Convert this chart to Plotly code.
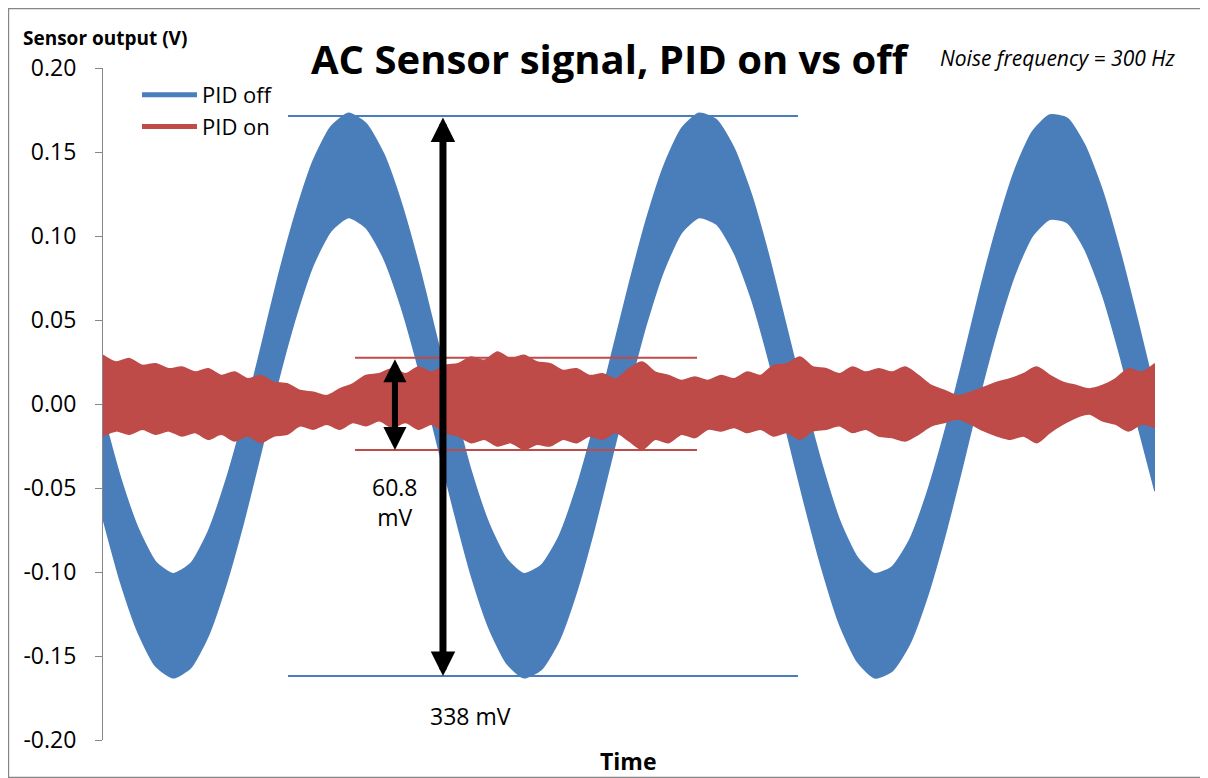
import plotly.graph_objects as go

# ---------------- data ----------------
# Time axis has no tick labels in the original; arbitrary sample units.
pid_off_time = list(range(61))
pid_off_upper = [
    -0.006, -0.044, -0.074, -0.094, -0.101, -0.095, -0.076, -0.046, -0.009, 0.033,
    0.076, 0.114, 0.145, 0.165, 0.173, 0.167, 0.149, 0.120, 0.083, 0.041,
    -0.001, -0.040, -0.071, -0.092, -0.101, -0.096, -0.079, -0.050, -0.013, 0.029,
    0.071, 0.110, 0.142, 0.164, 0.173, 0.169, 0.152, 0.124, 0.087, 0.045,
    0.003, -0.036, -0.069, -0.091, -0.101, -0.097, -0.081, -0.053, -0.017, 0.024,
    0.067, 0.106, 0.139, 0.162, 0.172, 0.170, 0.154, 0.127, 0.091, 0.050,
    0.007,
]
pid_off_lower = [
    -0.068, -0.106, -0.136, -0.156, -0.163, -0.157, -0.138, -0.108, -0.071, -0.029,
    0.014, 0.052, 0.083, 0.103, 0.111, 0.105, 0.087, 0.058, 0.021, -0.021,
    -0.063, -0.102, -0.133, -0.154, -0.163, -0.158, -0.141, -0.112, -0.075, -0.033,
    0.009, 0.048, 0.080, 0.102, 0.111, 0.107, 0.090, 0.062, 0.025, -0.017,
    -0.059, -0.098, -0.131, -0.153, -0.163, -0.159, -0.143, -0.115, -0.079, -0.038,
    0.005, 0.044, 0.077, 0.100, 0.110, 0.108, 0.092, 0.065, 0.029, -0.012,
    -0.052,
]

pid_on_time = [i * 0.75 for i in range(81)]
pid_on_upper = [
    0.029, 0.025, 0.027, 0.023, 0.024, 0.021, 0.022, 0.019, 0.021, 0.017,
    0.019, 0.015, 0.017, 0.013, 0.012, 0.008, 0.007, 0.005, 0.009, 0.012,
    0.017, 0.018, 0.021, 0.018, 0.022, 0.019, 0.023, 0.024, 0.028, 0.026,
    0.031, 0.027, 0.029, 0.025, 0.024, 0.020, 0.021, 0.017, 0.018, 0.015,
    0.021, 0.025, 0.019, 0.017, 0.014, 0.016, 0.014, 0.017, 0.015, 0.019,
    0.017, 0.023, 0.024, 0.028, 0.022, 0.021, 0.018, 0.022, 0.019, 0.021,
    0.019, 0.022, 0.017, 0.011, 0.008, 0.005, 0.007, 0.010, 0.013, 0.015,
    0.018, 0.022, 0.017, 0.013, 0.011, 0.009, 0.011, 0.015, 0.021, 0.019,
    0.024,
]
pid_on_lower = [
    -0.019, -0.016, -0.018, -0.015, -0.018, -0.016, -0.019, -0.017, -0.021, -0.018,
    -0.022, -0.019, -0.023, -0.019, -0.018, -0.013, -0.015, -0.012, -0.015, -0.011,
    -0.013, -0.010, -0.014, -0.011, -0.015, -0.012, -0.017, -0.019, -0.023, -0.021,
    -0.025, -0.023, -0.027, -0.024, -0.025, -0.021, -0.023, -0.019, -0.021, -0.017,
    -0.022, -0.027, -0.021, -0.023, -0.018, -0.020, -0.015, -0.016, -0.014, -0.017,
    -0.015, -0.019, -0.017, -0.021, -0.016, -0.015, -0.013, -0.017, -0.015, -0.019,
    -0.020, -0.022, -0.018, -0.013, -0.011, -0.009, -0.012, -0.016, -0.019, -0.021,
    -0.019, -0.023, -0.017, -0.012, -0.008, -0.006, -0.010, -0.012, -0.016, -0.012,
    -0.014,
]

y_tick_vals = [-0.20, -0.15, -0.10, -0.05, 0.00, 0.05, 0.10, 0.15, 0.20]
y_tick_text = ["-0.20", "-0.15", "-0.10", "-0.05", "0.00", "0.05", "0.10", "0.15", "0.20"]

off_max, off_min = 0.1714, -0.1619
on_max, on_min = 0.0276, -0.0274
off_line_t = (10.55, 39.64)
on_line_t = (14.37, 33.88)
off_arrow_t = 19.39
on_arrow_t = 16.65
off_label = "338 mV"
on_label = "60.8<br>mV"

BLUE = "#4a7ebb"
RED = "#be4b48"
FONT = "Open Sans"

# ---------------- figure ----------------
# the page body has an 8px margin, so the figure starts at page (8, 8)
OFF = 8
W, H = 1200, 770
ML, MR, MT, MB = 95, 53, 60, 38
PW, PH = W - ML - MR, H - MT - MB


def X(px):  # page pixel -> paper x
    return (px - OFF - ML) / PW


def Y(py):  # page pixel -> paper y
    return (H - MB - (py - OFF)) / PH


fig = go.Figure()

# PID off band
fig.add_trace(go.Scatter(x=pid_off_time, y=pid_off_upper, mode="lines",
                         line=dict(color=BLUE, width=1.5, shape="spline", smoothing=0.6),
                         showlegend=False, hoverinfo="skip"))
fig.add_trace(go.Scatter(x=pid_off_time, y=pid_off_lower, mode="lines",
                         line=dict(color=BLUE, width=1.5, shape="spline", smoothing=0.6),
                         fill="tonexty", fillcolor=BLUE,
                         showlegend=False, hoverinfo="skip"))
# PID on band
fig.add_trace(go.Scatter(x=pid_on_time, y=pid_on_upper, mode="lines",
                         line=dict(color=RED, width=1.5, shape="spline", smoothing=0.8),
                         showlegend=False, hoverinfo="skip"))
fig.add_trace(go.Scatter(x=pid_on_time, y=pid_on_lower, mode="lines",
                         line=dict(color=RED, width=1.5, shape="spline", smoothing=0.8),
                         fill="tonexty", fillcolor=RED,
                         showlegend=False, hoverinfo="skip"))

# legend entries
fig.add_trace(go.Scatter(x=[None], y=[None], mode="lines", name="PID off",
                         line=dict(color=BLUE, width=5)))
fig.add_trace(go.Scatter(x=[None], y=[None], mode="lines", name="PID on",
                         line=dict(color=RED, width=5)))

# horizontal measurement lines
for yv in (off_max, off_min):
    fig.add_shape(type="line", xref="x", yref="y", x0=off_line_t[0], x1=off_line_t[1],
                  y0=yv, y1=yv, line=dict(color=BLUE, width=2))
for yv in (on_max, on_min):
    fig.add_shape(type="line", xref="x", yref="y", x0=on_line_t[0], x1=on_line_t[1],
                  y0=yv, y1=yv, line=dict(color=RED, width=2))

# outer chart border
fig.add_shape(type="rect", xref="paper", yref="paper",
              x0=X(8.6), x1=X(1207.4), y0=Y(777.4), y1=Y(8.6),
              line=dict(color="#868686", width=1.2), layer="below")

annotations = []
# double arrows
annotations.append(dict(x=off_arrow_t, y=off_min, ax=off_arrow_t, ay=off_max,
                        xref="x", yref="y", axref="x", ayref="y", text="",
                        showarrow=True, arrowhead=2, startarrowhead=2, arrowside="end+start",
                        arrowwidth=7, arrowsize=0.7, startarrowsize=0.7,
                        standoff=0, startstandoff=0, arrowcolor="black"))
annotations.append(dict(x=on_arrow_t, y=on_min, ax=on_arrow_t, ay=on_max,
                        xref="x", yref="y", axref="x", ayref="y", text="",
                        showarrow=True, arrowhead=2, startarrowhead=2, arrowside="end+start",
                        arrowwidth=6, arrowsize=0.77, startarrowsize=0.77,
                        standoff=0, startstandoff=0, arrowcolor="black"))


def txt(text, px, py, size, bold=False, italic=False, xanchor="center"):
    if bold:
        text = "<b>" + text + "</b>"
    if italic:
        text = "<i>" + text + "</i>"
    return dict(text=text, x=X(px), y=Y(py), xref="paper", yref="paper",
                xanchor=xanchor, yanchor="middle", showarrow=False,
                font=dict(family=FONT, size=size, color="black"))


annotations.append(txt("AC Sensor signal, PID on vs off", 610, 59, 40, bold=True))
annotations.append(txt("Sensor output (V)", 105, 38, 19, bold=True))
annotations.append(txt("Noise frequency = 300 Hz", 1058, 58, 21, italic=True))
annotations.append(txt(on_label, 395, 502, 23))
annotations.append(txt(off_label, 470, 716, 23))
annotations.append(txt("Time", 628, 761, 23, bold=True))

fig.update_layout(
    width=W, height=H,
    margin=dict(l=ML, r=MR, t=MT, b=MB, pad=0),
    paper_bgcolor="white", plot_bgcolor="white",
    font=dict(family=FONT, size=23, color="black"),
    annotations=annotations,
    legend=dict(x=X(137), y=Y(74), xanchor="left", yanchor="top",
                bgcolor="rgba(0,0,0,0)", font=dict(family=FONT, size=22),
                itemwidth=55, tracegroupgap=0, traceorder="normal"),
    xaxis=dict(range=[0, 60], showgrid=False, zeroline=False, showline=False,
               showticklabels=False, ticks=""),
    yaxis=dict(range=[-0.2, 0.2], tickvals=y_tick_vals, ticktext=y_tick_text,
               showgrid=False, zeroline=False, showline=True, linecolor="#868686",
               linewidth=1.2, ticks="outside", ticklen=7, tickcolor="#868686",
               tickwidth=1.2, ticklabelstandoff=14,
               tickfont=dict(family=FONT, size=23, color="black")),
)

fig.write_html("out.html")
